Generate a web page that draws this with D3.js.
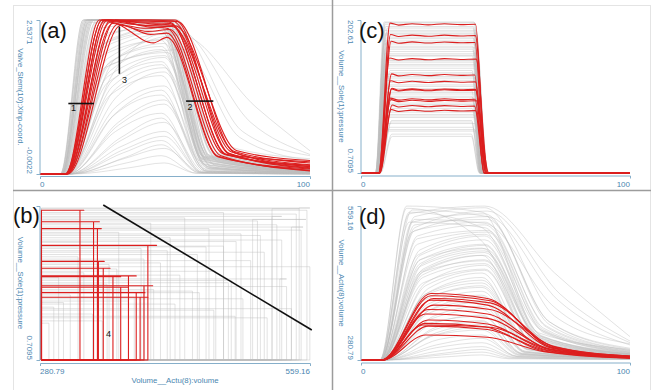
<!DOCTYPE html>
<html>
<head>
<meta charset="utf-8">
<title>Valve runs: stem position, pressure, volume</title>
<script src="https://d3js.org/d3.v7.min.js"></script>
<style>
  body { margin: 0; background: #fff; }
  svg text { font-family: "Liberation Sans", Arial, sans-serif; }
  .grey { fill: none; stroke: #bdbdbd; stroke-width: 0.8; stroke-opacity: 0.55; }
  .red { fill: none; stroke: #dc1f1f; stroke-width: 1.1; stroke-linejoin: round; }
  .axis path { stroke: #86afca; stroke-width: 1; }
  .tick-label { fill: #4a86b0; font-size: 8px; }
  .axis-title { fill: #4a86b0; font-size: 7.8px; }
  .panel-label { fill: #111; font-size: 22px; }
  .note { stroke: #111; stroke-width: 1.6; }
  .note-text { fill: #111; font-size: 9px; }
</style>
</head>
<body>
<script>
// ---------------- data ----------------
const timeTicks = [0, 100];
const valveTicks = [-0.0022, 2.5371];
const pressureTicks = [0.7095, 202.61];
const volumeTicks = [280.79, 559.16];
const valveTitle = "Valve_Stem(10):Xinp-coord.";
const pressureTitle = "Volume__Sole(1):pressure";
const volumeTitle = "Volume__Actu(8):volume";
const panelLabels = ["(a)", "(b)", "(c)", "(d)"];
const startVolume = 282.3; // volume when the pressure rises (left edge in b)

// (a) grey runs: [riseStart, t1, y1, tPeak, yPeak, tFall, yFall, yAt100]
const greyValve = [
  [7.5, 16, 2.537, 46, 2.537, 60, 0.30, 0.06],
  [7.8, 17, 2.537, 47, 2.537, 61, 0.28, 0.05],
  [8.0, 17.5, 2.537, 45, 2.537, 62, 0.32, 0.08],
  [8.2, 18, 2.537, 48, 2.537, 63, 0.30, 0.07],
  [7.6, 16.5, 2.537, 46, 2.50, 60, 0.26, 0.04],
  [8.4, 19, 2.537, 47, 2.537, 64, 0.34, 0.10],
  [8.0, 18.5, 2.537, 49, 2.537, 65, 0.31, 0.09],
  [8.6, 20, 2.537, 50, 2.537, 66, 0.35, 0.12],
  [7.9, 17, 2.537, 44, 2.48, 59, 0.22, 0.03],
  [8.3, 19.5, 2.537, 48, 2.52, 63, 0.29, 0.06],
  [8.8, 21, 2.537, 47, 2.537, 62, 0.30, 0.08],
  [8.1, 18, 2.537, 46, 2.537, 61, 0.27, 0.05],
  [8.5, 20, 2.537, 51, 2.537, 67, 0.36, 0.13],
  [7.7, 16, 2.537, 45, 2.537, 60, 0.25, 0.04],
  [9.0, 22, 2.537, 48, 2.537, 64, 0.30, 0.07],
  [8.2, 18, 2.50, 47, 2.46, 62, 0.28, 0.06],
  [8.7, 20.5, 2.49, 45, 2.42, 61, 0.26, 0.05],
  [8.0, 17.5, 2.537, 49, 2.537, 66, 0.33, 0.10],
  [7.6, 16.5, 2.537, 47, 2.537, 61, 0.27, 0.05],
  [8.1, 18.5, 2.537, 45, 2.50, 60, 0.24, 0.04],
  [8.4, 19.5, 2.537, 49, 2.537, 64, 0.32, 0.09],
  [7.9, 17.5, 2.537, 48, 2.537, 62, 0.29, 0.07],
  [8.9, 21.5, 2.52, 47, 2.49, 63, 0.28, 0.06],
  [8.3, 19, 2.537, 50, 2.537, 65, 0.33, 0.11],
  [9.0, 22, 2.10, 45, 2.40, 62, 0.20, 0.04],
  [9.2, 24, 2.00, 46, 2.30, 63, 0.18, 0.03],
  [9.5, 23, 1.95, 45, 2.20, 61, 0.15, 0.03],
  [9.3, 25, 1.80, 46, 2.15, 64, 0.16, 0.04],
  [9.6, 26, 1.70, 45, 2.05, 62, 0.12, 0.02],
  [9.4, 24, 1.75, 47, 2.00, 65, 0.14, 0.03],
  [9.8, 27, 1.55, 46, 1.92, 63, 0.10, 0.02],
  [9.5, 25, 1.50, 45, 1.85, 62, 0.10, 0.02],
  [9.9, 28, 1.40, 46, 1.75, 64, 0.09, 0.02],
  [9.7, 26, 1.30, 45, 1.62, 61, 0.08, 0.01],
  [10.0, 27, 1.65, 47, 2.32, 66, 0.20, 0.04],
  [9.1, 23, 2.25, 46, 2.45, 63, 0.22, 0.05],
  [9.2, 23, 2.30, 46, 2.42, 62, 0.18, 0.04],
  [9.4, 24, 2.15, 45, 2.35, 61, 0.16, 0.03],
  [9.6, 25, 1.90, 46, 2.22, 63, 0.14, 0.03],
  [9.8, 26, 1.85, 45, 2.10, 62, 0.12, 0.02],
  [9.5, 25, 1.60, 46, 1.95, 64, 0.11, 0.02],
  [10.0, 27, 1.45, 45, 1.80, 62, 0.09, 0.02],
  [9.9, 28, 1.25, 46, 1.68, 63, 0.08, 0.01],
  [10.0, 28, 1.10, 46, 1.45, 62, 0.06, 0.01],
  [10.2, 27, 0.95, 45, 1.30, 61, 0.05, 0.01],
  [10.3, 28, 1.00, 45, 1.38, 61, 0.05, 0.01],
  [10.4, 29, 0.80, 46, 1.15, 62, 0.04, 0.01],
  [10.6, 29, 0.85, 46, 1.22, 62, 0.04, 0.01],
  [10.5, 28, 0.70, 45, 1.00, 60, 0.03, 0.01],
  [10.9, 30, 0.60, 45, 0.92, 60, 0.03, 0.01],
  [10.8, 30, 0.55, 46, 0.85, 61, 0.03, 0.01],
  [11.0, 30, 0.45, 46, 0.70, 60, 0.02, 0.00],
  [11.3, 31, 0.40, 46, 0.62, 60, 0.02, 0.00],
  [11.2, 31, 0.35, 45, 0.55, 59, 0.02, 0.00],
  [11.8, 32, 0.28, 45, 0.48, 59, 0.02, 0.00],
  [11.5, 31, 0.25, 46, 0.42, 60, 0.02, 0.00],
  [12.0, 32, 0.18, 45, 0.30, 58, 0.01, 0.00],
  [12.5, 33, 0.10, 46, 0.18, 58, 0.01, 0.00],
  [9.5, 28, 1.90, 52, 2.29, 80, 1.10, 0.38],
  [9.0, 25, 2.20, 50, 2.45, 75, 0.70, 0.30],
  [9.2, 22, 2.40, 49, 2.50, 70, 0.45, 0.25],
  [9.3, 24, 2.10, 51, 2.38, 78, 0.85, 0.32],
  [9.6, 26, 1.80, 53, 2.05, 74, 0.60, 0.22]
];

// (a) red runs: [riseStart, t1, top, tDip, dip, tFallStart, yFallStart, tFall, yFall, yAt100]
const redValve = [
  [9.4, 22, 2.537, 38, 2.537, 50, 2.537, 70, 0.34, 0.10],
  [9.6, 23, 2.537, 40, 2.50, 49, 2.52, 71, 0.36, 0.15],
  [9.8, 24, 2.52, 39, 2.45, 48, 2.48, 69, 0.32, 0.12],
  [9.5, 25, 2.537, 41, 2.42, 47, 2.40, 67, 0.30, 0.05],
  [10.0, 26, 2.50, 42, 2.16, 47, 2.25, 66, 0.28, 0.08],
  [9.7, 27, 2.48, 40, 2.35, 48, 2.38, 68, 0.33, 0.20],
  [10.2, 28, 2.537, 38, 2.45, 49, 2.43, 72, 0.37, 0.18],
  [9.9, 29, 2.47, 41, 2.30, 47, 2.32, 66, 0.29, 0.06],
  [10.4, 30, 2.45, 39, 2.40, 50, 2.44, 73, 0.38, 0.22],
  [9.3, 23, 2.537, 40, 2.537, 51, 2.51, 72, 0.35, 0.12],
  [9.8, 26, 2.52, 40, 2.48, 49, 2.45, 70, 0.33, 0.09],
  [9.6, 24, 2.537, 38, 2.52, 48, 2.50, 69, 0.31, 0.14]
];

// grey runs shared by (b), (c), (d): plateau pressure
const greyPressure = [200, 197, 194, 189, 187, 183, 180, 175, 173, 168,
  166, 161, 158, 155, 150, 147, 142, 139, 136, 131,
  128, 123, 120, 117, 112, 109, 105, 100, 97, 93,
  89, 86, 81, 78, 74, 70, 66, 61, 56, 49,
  199, 192, 185, 178, 171, 164, 156, 149, 144, 133,
  126, 115, 107, 102, 91, 83, 76, 68, 58, 52];
// (c) grey timing: [riseStart, riseEnd, fallStart, fallEnd]
const greyPressureTiming = [
  [5.4, 8.6, 42.0, 45.2], [5.6, 9.0, 42.4, 45.8], [5.8, 9.2, 41.8, 45.0], [5.5, 8.8, 42.6, 46.2],
  [6.0, 9.6, 42.2, 45.4], [5.7, 9.1, 43.0, 46.6], [6.2, 9.9, 41.6, 44.8], [5.4, 8.7, 42.8, 46.4],
  [5.9, 9.4, 42.1, 45.6], [6.3, 10.2, 41.5, 44.6], [5.8, 9.3, 42.5, 46.0], [6.1, 9.7, 42.0, 45.3],
  [5.5, 8.9, 43.2, 47.0], [6.4, 10.4, 41.4, 44.5], [5.9, 9.5, 42.3, 45.7], [6.2, 10.0, 41.9, 45.1],
  [5.6, 9.0, 42.9, 46.5], [6.0, 9.6, 42.2, 45.5], [6.6, 10.8, 41.3, 44.4], [5.7, 9.2, 42.7, 46.3],
  [6.1, 9.8, 42.0, 45.2], [5.3, 8.5, 43.4, 47.4], [6.3, 10.3, 41.7, 44.9], [5.8, 9.4, 42.4, 45.9],
  [6.0, 9.7, 42.1, 45.4], [6.8, 11.2, 41.2, 44.3], [5.9, 9.3, 42.6, 46.1], [6.5, 10.6, 41.6, 44.7],
  [5.5, 8.8, 43.1, 46.8], [6.2, 10.1, 41.9, 45.2], [6.0, 9.6, 42.3, 45.6], [6.7, 11.0, 41.3, 44.4],
  [5.8, 9.3, 42.5, 46.0], [6.4, 10.5, 41.8, 45.0], [6.1, 9.9, 42.2, 45.4], [7.0, 11.4, 41.1, 44.2],
  [5.9, 9.5, 42.4, 45.8], [6.6, 10.7, 41.5, 44.6], [5.6, 9.1, 42.8, 46.4], [7.2, 11.6, 41.0, 44.0],
  [5.5, 8.9, 42.3, 45.6], [6.0, 9.8, 41.7, 44.9], [5.7, 9.2, 42.8, 46.3], [6.3, 10.1, 42.0, 45.1],
  [5.4, 8.6, 43.0, 46.8], [6.5, 10.5, 41.5, 44.6], [5.8, 9.3, 42.5, 45.9], [6.1, 9.9, 42.1, 45.3],
  [5.6, 9.0, 42.9, 46.5], [6.6, 10.9, 41.4, 44.5], [5.9, 9.5, 42.4, 45.8], [6.2, 10.2, 41.8, 45.0],
  [5.5, 8.8, 43.1, 46.9], [6.8, 11.1, 41.2, 44.3], [6.0, 9.7, 42.2, 45.5], [6.4, 10.4, 41.6, 44.8],
  [5.7, 9.1, 42.7, 46.2], [6.9, 11.3, 41.1, 44.2], [6.1, 9.8, 42.3, 45.6], [7.1, 11.5, 41.0, 44.1]
];
// (d) grey volume: [riseStart, t1, v1, tPeak, vPeak, tFall, vFall, vAt100]
const greyVolume = [
  [7.0, 17, 559, 45, 548, 66, 330, 300], [7.2, 20, 540, 46, 556, 72, 360, 310],
  [7.5, 22, 440, 45, 470, 64, 310, 288], [7.0, 18, 530, 46, 520, 68, 330, 295],
  [7.8, 24, 400, 45, 430, 62, 300, 286], [7.4, 21, 470, 46, 505, 67, 320, 292],
  [8.0, 25, 370, 45, 395, 61, 295, 285], [7.1, 19, 552, 47, 540, 70, 345, 298],
  [7.6, 23, 430, 46, 455, 65, 312, 289], [8.2, 26, 345, 45, 362, 60, 292, 284],
  [7.5, 22, 455, 46, 488, 66, 318, 291], [7.9, 24, 390, 45, 415, 63, 302, 287],
  [7.2, 20, 515, 46, 530, 69, 340, 296], [8.3, 27, 325, 45, 340, 59, 290, 284],
  [7.6, 23, 440, 46, 470, 65, 315, 290], [8.1, 25, 365, 45, 385, 61, 296, 285],
  [7.3, 21, 490, 47, 512, 68, 335, 294], [7.8, 24, 415, 46, 443, 64, 308, 288],
  [8.5, 28, 308, 45, 320, 58, 288, 283], [7.4, 22, 470, 46, 498, 67, 325, 292],
  [8.0, 25, 382, 45, 405, 62, 300, 286], [7.0, 18, 545, 46, 559, 72, 438, 323],
  [8.2, 26, 348, 45, 360, 60, 293, 284], [7.7, 23, 435, 46, 462, 65, 314, 289],
  [7.9, 24, 400, 45, 425, 63, 304, 287], [8.8, 29, 292, 45, 300, 57, 285, 282],
  [7.5, 22, 450, 46, 478, 66, 322, 291], [8.4, 27, 335, 45, 350, 60, 291, 284],
  [7.2, 20, 525, 47, 535, 70, 350, 300], [8.0, 25, 378, 45, 398, 62, 299, 286],
  [7.7, 23, 420, 46, 445, 64, 310, 288], [8.6, 28, 303, 45, 312, 58, 287, 283],
  [7.4, 22, 462, 46, 490, 66, 324, 292], [8.2, 26, 355, 45, 372, 61, 294, 285],
  [7.8, 24, 398, 45, 420, 63, 303, 287], [9.0, 30, 290, 45, 295, 56, 284, 282],
  [7.6, 23, 440, 46, 460, 65, 316, 290], [8.5, 27, 325, 45, 335, 59, 289, 284],
  [7.3, 21, 500, 47, 515, 68, 338, 295], [9.2, 30, 286, 45, 290, 55, 283, 282],
  [7.1, 18, 548, 45, 520, 67, 335, 297], [7.3, 19, 530, 46, 545, 70, 350, 302],
  [7.0, 17, 555, 44, 500, 66, 325, 294], [7.4, 21, 505, 46, 525, 69, 342, 298],
  [7.2, 20, 520, 47, 550, 74, 400, 315], [7.6, 22, 480, 46, 508, 68, 332, 293],
  [7.5, 22, 462, 45, 483, 66, 318, 290], [7.9, 24, 420, 46, 452, 64, 309, 288],
  [8.1, 25, 395, 45, 412, 62, 301, 286], [8.3, 26, 372, 45, 388, 61, 297, 285],
  [8.6, 28, 340, 45, 352, 59, 291, 284], [8.9, 29, 318, 45, 326, 58, 287, 283],
  [7.3, 20, 535, 46, 528, 71, 380, 308], [7.8, 23, 445, 46, 475, 66, 320, 291],
  [8.0, 25, 410, 45, 438, 63, 306, 287], [8.4, 27, 360, 45, 378, 61, 295, 285],
  [9.1, 30, 298, 45, 305, 57, 286, 282], [7.2, 19, 512, 47, 540, 73, 390, 312],
  [7.7, 23, 455, 46, 482, 67, 324, 292], [8.7, 28, 330, 45, 345, 60, 292, 284]
];

// red runs shared by (b), (c), (d)
const redPressure = [197, 182, 173, 151, 130, 121, 111, 110, 98, 96, 89, 83];
// (c) red timing: [riseStart, riseEnd, fallStart, fallEnd]
const redPressureTiming = [
  [6.6, 10.8, 42.6, 46.3], [6.8, 11.0, 42.5, 46.8], [6.7, 11.2, 42.4, 46.0], [6.5, 10.6, 42.8, 47.2],
  [6.9, 11.4, 42.3, 45.6], [6.8, 11.0, 42.6, 46.4], [7.0, 11.5, 42.5, 47.0], [6.9, 11.3, 42.7, 46.6],
  [6.6, 10.9, 42.4, 45.8], [6.7, 11.1, 42.9, 47.5], [7.0, 11.6, 42.2, 45.9], [6.8, 11.2, 42.6, 46.5]
];
// small ripple on the red pressure plateaus: time and offset
const rippleTime = [14, 19, 25, 31, 37];
const rippleOffset = [-1.1, 0.7, -0.8, 0.6, -0.5];
// (d) red volume: [riseStart, t1, v1, tPeak, vPeak, tFall, vFall, vAt100]
const redVolume = [
  [8.0, 24, 326, 47, 322, 68, 296, 284], [7.8, 25, 342, 47, 336, 69, 298, 285],
  [8.2, 23, 344, 48, 340, 70, 300, 286], [7.5, 26, 401, 47, 392, 71, 304, 287],
  [8.1, 24, 347, 46, 341, 68, 297, 284], [7.9, 25, 353, 47, 346, 69, 299, 285],
  [7.7, 27, 380, 48, 372, 72, 305, 288], [8.0, 24, 364, 47, 356, 70, 301, 286],
  [7.6, 26, 397, 48, 388, 71, 303, 287], [7.9, 25, 372, 47, 364, 70, 300, 285],
  [7.8, 26, 389, 47, 380, 71, 302, 286], [7.7, 27, 392, 48, 384, 72, 304, 288]
];

// black annotations
const valveNotes = [
  { from: [10.5, 1.16], to: [20, 1.16], text: "1", at: [11.5, 1.03] },
  { from: [54.1, 1.2], to: [64.2, 1.2], text: "2", at: [54.6, 1.05] },
  { from: [29.4, 2.43], to: [29.4, 1.65], text: "3", at: [30.4, 1.50] }
];
const phaseNotes = [
  { from: [346, 204], to: [561, 40], text: "4", at: [348.8, 30.5] }
];

// ---------------- layout ----------------
const W = 659, H = 390;
const svg = d3.select("body").append("svg")
  .attr("width", W).attr("height", H);

// frame and separators
svg.append("rect").attr("x", 13.5).attr("y", 5.5).attr("width", 637).attr("height", 400)
  .attr("fill", "none").attr("stroke", "#e4e4e4");
svg.append("line").attr("x1", 13).attr("x2", 651).attr("y1", 190.5).attr("y2", 190.5)
  .attr("stroke", "#9c9c9c").attr("stroke-width", 1.5);
svg.append("line").attr("x1", 332.5).attr("x2", 332.5).attr("y1", 0).attr("y2", H)
  .attr("stroke", "#9c9c9c").attr("stroke-width", 1.5);

const boxes = {
  a: { left: 40, right: 310, top: 20, bottom: 174, xAxisY: 176 },
  b: { left: 40, right: 310, top: 206, bottom: 360, xAxisY: 363 },
  c: { left: 361, right: 630, top: 20, bottom: 173, xAxisY: 175.5 },
  d: { left: 361, right: 630, top: 206, bottom: 360, xAxisY: 362.5 }
};

function scalesFor(box, xDomain, yDomain) {
  return {
    x: d3.scaleLinear().domain(xDomain).range([box.left, box.right]),
    y: d3.scaleLinear().domain(yDomain).range([box.bottom, box.top])
  };
}

function drawAxes(box, sc, xTicks, yTicks, yTitle, xTitle, hideTopY) {
  svg.append("g").attr("class", "axis")
    .attr("transform", `translate(0,${box.xAxisY})`)
    .call(d3.axisBottom(sc.x).tickValues([]).tickSizeOuter(3));
  svg.append("g").attr("class", "axis")
    .attr("transform", `translate(${box.left - 0.5},0)`)
    .call(d3.axisLeft(sc.y).tickValues([]).tickSizeOuter(3));

  // x tick labels at both ends
  svg.append("text").attr("class", "tick-label")
    .attr("x", sc.x(xTicks[0])).attr("y", box.xAxisY + 11)
    .attr("text-anchor", "start").text(xTicks[0]);
  svg.append("text").attr("class", "tick-label")
    .attr("x", sc.x(xTicks[1])).attr("y", box.xAxisY + 11)
    .attr("text-anchor", "end").text(xTicks[1]);

  // rotated y tick labels
  const lx = box.left - 13.4;
  svg.append("text").attr("class", "tick-label")
    .attr("transform", `translate(${lx},${sc.y(yTicks[0])}) rotate(90)`)
    .attr("text-anchor", "end").text(yTicks[0]);
  if (!hideTopY) {
    svg.append("text").attr("class", "tick-label")
      .attr("transform", `translate(${lx},${sc.y(yTicks[1])}) rotate(90)`)
      .attr("text-anchor", "start").text(yTicks[1]);
  }
  svg.append("text").attr("class", "axis-title")
    .attr("transform", `translate(${box.left - 22.3},${(box.top + box.bottom) / 2}) rotate(90)`)
    .attr("text-anchor", "middle").text(yTitle);

  if (xTitle) {
    svg.append("text").attr("class", "axis-title")
      .attr("x", (box.left + box.right) / 2).attr("y", box.xAxisY + 19.5)
      .attr("text-anchor", "middle").text(xTitle);
  }
}

function smoothLine(sc) {
  return d3.line().x(d => sc.x(d[0])).y(d => sc.y(d[1])).curve(d3.curveMonotoneX);
}
function straightLine(sc) {
  return d3.line().x(d => sc.x(d[0])).y(d => sc.y(d[1]));
}

const p0 = pressureTicks[0];
const v0 = volumeTicks[0];

// ---------------- (a) valve stem ----------------
const sa = scalesFor(boxes.a, timeTicks, valveTicks);
const lineA = smoothLine(sa);
const greyA = greyValve.map(r => [[0, 0], [r[0], 0], [r[1], r[2]], [r[3], r[4]], [r[5], r[6]], [100, r[7]]]);
const redA = redValve.map(r => [[0, 0], [r[0], 0], [r[1], r[2]], [r[3], r[4]], [r[5], r[6]], [r[7], r[8]], [100, r[9]]]);

// ---------------- (c) pressure ----------------
const sc = scalesFor(boxes.c, timeTicks, pressureTicks);
const lineC = smoothLine(sc);
const greyC = greyPressure.map((P, i) => {
  const t = greyPressureTiming[i];
  return [[0, p0], [t[0], p0], [t[1], P], [t[2], P], [t[3], p0], [100, p0]];
});
const redC = redPressure.map((P, i) => {
  const t = redPressureTiming[i];
  const ripple = rippleTime.map((rt, k) => [rt, P + rippleOffset[k]]);
  return [[0, p0], [t[0], p0], [t[1], P + 1.5], ...ripple, [t[2], P], [t[3], p0], [100, p0]];
});

// ---------------- (d) volume ----------------
const sd = scalesFor(boxes.d, timeTicks, volumeTicks);
const lineD = smoothLine(sd);
const volPts = r => [[0, v0], [r[0], v0], [r[1], r[2]], [r[3], r[4]], [r[5], r[6]], [100, r[7]]];
const greyD = greyVolume.map(volPts);
const redD = redVolume.map(volPts);

// ---------------- (b) volume vs pressure ----------------
const sb = scalesFor(boxes.b, volumeTicks, pressureTicks);
const lineB = straightLine(sb);
const loopPts = (P, r) => [[startVolume, p0], [startVolume, P], [r[2], P], [r[4], P], [r[4], p0], [startVolume, p0]];
const greyB = greyPressure.map((P, i) => loopPts(P, greyVolume[i]));
const redB = redPressure.map((P, i) => loopPts(P, redVolume[i]));

// ---------------- draw ----------------
function drawRuns(cls, runs, gen) {
  svg.append("g").selectAll("path").data(runs).enter().append("path")
    .attr("class", cls).attr("d", gen);
}

drawRuns("grey", greyA, lineA);
drawRuns("grey", greyC, lineC);
drawRuns("grey", greyD, lineD);
drawRuns("grey", greyB, lineB);
drawRuns("red", redA, lineA);
drawRuns("red", redC, lineC);
drawRuns("red", redD, lineD);
drawRuns("red", redB, lineB);

drawAxes(boxes.a, sa, timeTicks, valveTicks, valveTitle, null, false);
drawAxes(boxes.c, sc, timeTicks, pressureTicks, pressureTitle, null, false);
drawAxes(boxes.d, sd, timeTicks, volumeTicks, volumeTitle, null, false);
drawAxes(boxes.b, sb, volumeTicks, pressureTicks, pressureTitle, volumeTitle, true);

function drawNotes(notes, s) {
  notes.forEach(n => {
    svg.append("line").attr("class", "note")
      .attr("x1", s.x(n.from[0])).attr("y1", s.y(n.from[1]))
      .attr("x2", s.x(n.to[0])).attr("y2", s.y(n.to[1]));
    svg.append("text").attr("class", "note-text")
      .attr("x", s.x(n.at[0])).attr("y", s.y(n.at[1])).text(n.text);
  });
}
drawNotes(valveNotes, sa);
drawNotes(phaseNotes, sb);

// panel letters
const labelPos = [[40, 38.3], [13, 223.3], [359, 38.3], [359, 224]];
panelLabels.forEach((t, i) => {
  svg.append("text").attr("class", "panel-label")
    .attr("x", labelPos[i][0]).attr("y", labelPos[i][1]).text(t);
});
</script>
</body>
</html>
